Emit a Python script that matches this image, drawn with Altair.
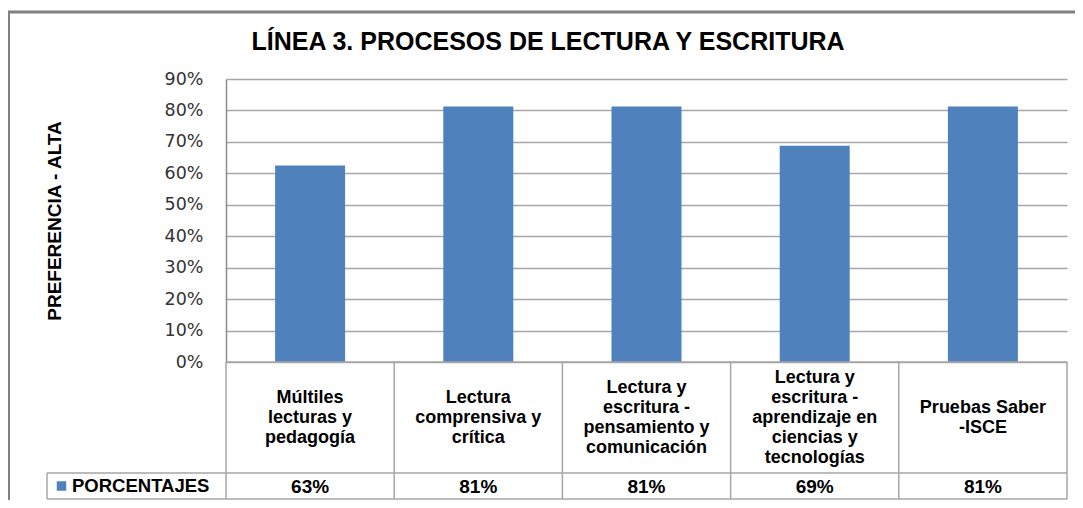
import altair as alt
import pandas as pd

TITLE = "LÍNEA 3. PROCESOS DE LECTURA Y ESCRITURA"
Y_TITLE = "PREFERENCIA - ALTA"
SERIES = "PORCENTAJES"
categories = [
    "Múltiles\nlecturas y\npedagogía",
    "Lectura\ncomprensiva y\ncrítica",
    "Lectura y\nescritura -\npensamiento y\ncomunicación",
    "Lectura y\nescritura -\naprendizaje en\nciencias y\ntecnologías",
    "Pruebas Saber\n-ISCE",
]
values = [0.625, 0.8125, 0.8125, 0.6875, 0.8125]
value_labels = ["63%", "81%", "81%", "69%", "81%"]
y_ticks = [0, 0.1, 0.2, 0.3, 0.4, 0.5, 0.6, 0.7, 0.8, 0.9]

W, H = 841, 283
BAR = "#4F81BD"
LINE = "#A6A6A6"
FONT = "Liberation Sans"
LH = 20  # line height of the wrapped category labels

df = pd.DataFrame({"cat": categories, "value": values, "label": value_labels})
# shift multi-line labels up so each block is vertically centred in its cell
df["shift"] = [-(c.count("\n") * LH) / 2 for c in categories]

xenc = alt.X("cat:N", sort=categories, axis=None,
             scale=alt.Scale(paddingInner=0, paddingOuter=0))

base = alt.Chart(df)

bars = base.mark_bar(size=70, color=BAR).encode(
    x=xenc,
    y=alt.Y("value:Q",
            scale=alt.Scale(domain=[0, 0.9], nice=False),
            axis=alt.Axis(values=y_ticks, format=".0%", title=None, grid=True,
                          gridColor=LINE, gridWidth=1.5, ticks=False,
                          domainColor="#8C8C8C", domainWidth=1.5,
                          labelFont="DejaVu Sans", labelFontSize=17.5,
                          labelColor="#333333", labelPadding=23)),
)

# data table: vertical separators at left edge of each category band
vlines = base.mark_rule(color=LINE, strokeWidth=1.5).encode(
    x=alt.X("cat:N", sort=categories, axis=None, bandPosition=0,
            scale=alt.Scale(paddingInner=0, paddingOuter=0)),
    y=alt.value(H), y2=alt.value(420),
)
one = alt.Chart(pd.DataFrame({"t": [SERIES]}))
right_line = one.mark_rule(color=LINE, strokeWidth=1.5).encode(
    x=alt.value(W), y=alt.value(H), y2=alt.value(420))
h1 = one.mark_rule(color=LINE, strokeWidth=1.5).encode(
    x=alt.value(-179), x2=alt.value(W), y=alt.value(394))
h2 = one.mark_rule(color=LINE, strokeWidth=1.5).encode(
    x=alt.value(-179), x2=alt.value(W), y=alt.value(420))
h0 = one.mark_rule(color=LINE, strokeWidth=1.5).encode(
    x=alt.value(0), x2=alt.value(W), y=alt.value(H))
vleft = one.mark_rule(color=LINE, strokeWidth=1.5).encode(
    x=alt.value(-179), y=alt.value(394), y2=alt.value(420))

legend_sq = one.mark_square(color=BAR, size=90, opacity=1).encode(
    x=alt.value(-164.5), y=alt.value(407))
legend_txt = one.mark_text(align="left", baseline="middle", font=FONT,
                           fontSize=18.5, fontWeight="bold",
                           color="black").encode(
    x=alt.value(-154), y=alt.value(407), text="t:N")

cat_text = base.mark_text(baseline="middle", align="center", font=FONT,
                          fontSize=18, fontWeight="bold", lineBreak="\n",
                          lineHeight=LH, color="black").encode(
    x=xenc, y=alt.value(339),
    yOffset=alt.YOffset("shift:Q", scale=None),
    text="cat:N")

val_text = base.mark_text(baseline="middle", align="center", font=FONT,
                          fontSize=19, fontWeight="bold", color="black").encode(
    x=xenc, y=alt.value(408), text="label:N")

title = alt.Chart(pd.DataFrame({"t": [TITLE]})).mark_text(
    baseline="middle", align="center", font=FONT, fontSize=25,
    fontWeight="bold", color="black").encode(
    x=alt.value(322), y=alt.value(-37), text="t:N")

ytitle = alt.Chart(pd.DataFrame({"t": [Y_TITLE]})).mark_text(
    baseline="middle", align="center", font=FONT, fontSize=19,
    fontWeight="bold", angle=270, color="black").encode(
    x=alt.value(-171), y=alt.value(142), text="t:N")

frame_top = one.mark_rule(color="#808080", strokeWidth=3).encode(
    x=alt.value(-218), x2=alt.value(W + 8), y=alt.value(-67))
frame_left = one.mark_rule(color="#808080", strokeWidth=2).encode(
    x=alt.value(-217), y=alt.value(-67), y2=alt.value(421))

chart = alt.layer(
    bars, h0, vlines, right_line, h1, h2, vleft, legend_sq, legend_txt,
    cat_text, val_text, title, ytitle, frame_top, frame_left,
).properties(
    width=W, height=H,
    autosize=alt.AutoSizeParams(type="none"),
    padding={"left": 218, "top": 71, "right": 8, "bottom": 138},
    background="white",
).configure_view(stroke=None)

chart.save("out.html", embed_options={"renderer": "svg", "actions": False})
